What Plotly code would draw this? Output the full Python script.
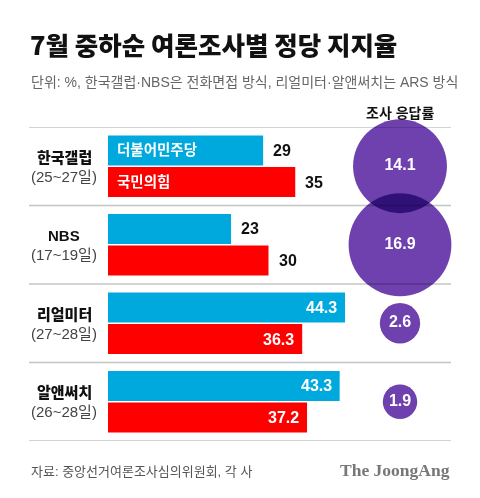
import plotly.graph_objects as go

# ---- data ----
pollsters = ["한국갤럽", "NBS", "리얼미터", "알앤써치"]
periods = ["(25~27일)", "(17~19일)", "(27~28일)", "(26~28일)"]
parties = ["더불어민주당", "국민의힘"]
dem = [29, 23, 44.3, 43.3]
ppp = [35, 30, 36.3, 37.2]
response_rate = [14.1, 16.9, 2.6, 1.9]

title = "7월 중하순 여론조사별 정당 지지율"
subtitle = "단위: %, 한국갤럽·NBS은 전화면접 방식, 리얼미터·알앤써치는 ARS 방식"
rate_header = "조사 응답률"
source = "자료: 중앙선거여론조사심의위원회, 각 사"
brand = "The JoongAng"

# ---- style ----
W, H = 480, 498
BLUE = "#00A9DD"
RED = "#FF0000"
PURPLE = "rgb(110,65,175)"
FONT = "Liberation Sans, Noto Sans CJK KR, sans-serif"
CJK = "Noto Sans CJK KR, sans-serif"
BARGAP = 0.197
INSIDE_MIN = 36  # long bars carry their value inside

def px(x):
    return x / W

def py(y):
    return 1 - y / H

n = len(pollsters)
fig = go.Figure()
for vals, color, name in [(dem, BLUE, parties[0]), (ppp, RED, parties[1])]:
    fig.add_trace(go.Bar(
        y=pollsters, x=vals, orientation="h", name=name,
        marker=dict(color=color, line=dict(width=0)),
        xaxis="x", yaxis="y", hoverinfo="skip",
    ))

fig.add_trace(go.Scatter(
    x=[rate_header] * n, y=pollsters, mode="markers+text",
    marker=dict(size=[25 * v ** 0.5 for v in response_rate], color=PURPLE,
                line=dict(width=0), opacity=1),
    text=[f"{v}" for v in response_rate], textposition="middle center",
    textfont=dict(color="white", size=16, family=FONT, weight="bold"),
    xaxis="x2", yaxis="y", cliponaxis=False, hoverinfo="skip",
))

off = (1 - BARGAP) / 4
annotations = []
for i in range(n):
    for vals, sign in [(dem, -1), (ppp, 1)]:
        v = vals[i]
        inside = v >= INSIDE_MIN
        annotations.append(dict(
            x=v, y=i + sign * off, xref="x", yref="y", text=f"<b>{v}</b>",
            showarrow=False, xanchor="right" if inside else "left",
            xshift=-6 if inside else 8, yanchor="middle",
            font=dict(size=16, color="white" if inside else "#111", family=FONT),
        ))
    annotations.append(dict(
        x=px(64), y=i, xref="paper", yref="y", text=pollsters[i],
        showarrow=False, xanchor="center", yanchor="middle", yshift=9,
        font=dict(size=15, color="#111", family=FONT, weight=800),
    ))
    annotations.append(dict(
        x=px(64), y=i, xref="paper", yref="y", text=periods[i],
        showarrow=False, xanchor="center", yanchor="middle", yshift=-10,
        font=dict(size=15, color="#444", family=FONT),
    ))
# party names inside the first group's bars
for j, sign in enumerate([-1, 1]):
    annotations.append(dict(
        x=0, y=0 + sign * off, xref="x", yref="y", text=parties[j],
        showarrow=False, xanchor="left", xshift=7, yanchor="middle",
        font=dict(size=14.5, color="white", family=FONT, weight=700),
    ))

annotations += [
    dict(x=px(28), y=py(44), xref="paper", yref="paper", text=title,
         showarrow=False, xanchor="left", yanchor="middle",
         font=dict(size=25.5, color="#111", family=CJK, weight=900)),
    dict(x=px(29), y=py(82), xref="paper", yref="paper", text=subtitle,
         showarrow=False, xanchor="left", yanchor="middle",
         font=dict(size=14, color="#666", family=FONT)),
    dict(x=px(400), y=py(113), xref="paper", yref="paper", text=f"<b>{rate_header}</b>",
         showarrow=False, xanchor="center", yanchor="middle",
         font=dict(size=14, color="#111", family=FONT)),
    dict(x=px(29), y=py(471), xref="paper", yref="paper", text=source,
         showarrow=False, xanchor="left", yanchor="middle",
         font=dict(size=13, color="#555", family=FONT)),
    dict(x=px(452), y=py(470), xref="paper", yref="paper", text=f"<b>{brand}</b>",
         showarrow=False, xanchor="right", yanchor="middle",
         font=dict(size=17.5, color="#777", family="Liberation Serif, DejaVu Serif, serif")),
]

shapes = [dict(type="line", xref="paper", yref="y", x0=px(29), x1=px(451),
               y0=k - 0.5, y1=k - 0.5, layer="below",
               line=dict(color="#c4c4c4", width=1.5)) for k in range(n + 1)]

fig.update_layout(
    width=W, height=H, autosize=False,
    margin=dict(l=0, r=0, t=0, b=0),
    paper_bgcolor="white", plot_bgcolor="rgba(0,0,0,0)",
    barmode="group", bargap=BARGAP, bargroupgap=0.05,
    showlegend=False,
    xaxis=dict(domain=[px(108), px(451)], range=[0, 343 / 5.35], visible=False,
               fixedrange=True),
    xaxis2=dict(domain=[px(350), px(450)], anchor="y", visible=False, fixedrange=True),
    yaxis=dict(domain=[py(441), py(127)], range=[n - 0.5, -0.5], visible=False,
               fixedrange=True),
    annotations=annotations, shapes=shapes,
    font=dict(family=FONT),
)

post = """
document.body.style.margin = '0';
document.body.style.overflow = 'hidden';
var gd = document.getElementById('{plot_id}');
gd.querySelectorAll('.scatterlayer .points path').forEach(function(p){
  p.style.mixBlendMode = 'multiply';
});
"""
fig.write_html("out.html", post_script=post, config={"displayModeBar": False})
